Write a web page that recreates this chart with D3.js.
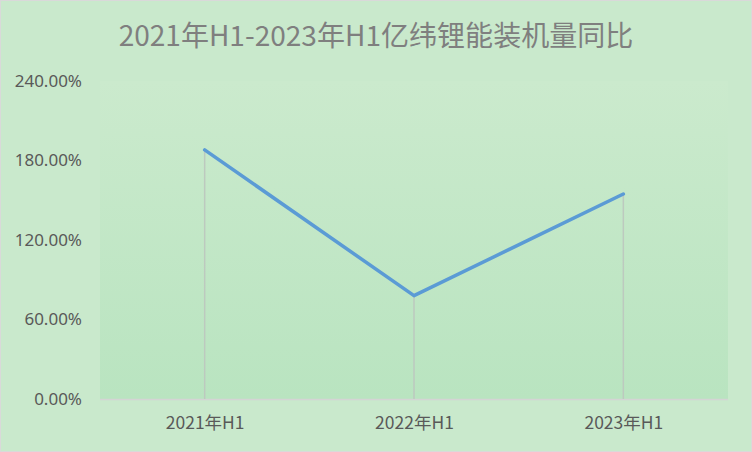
<!DOCTYPE html>
<html>
<head>
<meta charset="utf-8">
<script src="https://cdn.jsdelivr.net/npm/d3@7"></script>
<style>
  body { margin: 0; background: #fff; }
  svg { display: block; }
</style>
</head>
<body>
<div id="chart"></div>
<script>
// chart data
var categories = ['2021年H1', '2022年H1', '2023年H1'];
var yoyValues = [1.88, 0.78, 1.547];
var yTicks = [0, 0.6, 1.2, 1.8, 2.4];
var titleText = '2021年H1-2023年H1亿纬锂能装机量同比';

var width = 752, height = 452;
var margin = {top: 81, right: 24, bottom: 53, left: 100};
var plotW = width - margin.left - margin.right;
var plotH = height - margin.top - margin.bottom;

const svg = d3.select('#chart')
  .append('svg')
  .attr('width', width)
  .attr('height', height);

// gradient for the plot area
var defs = svg.append('defs');
var grad = defs.append('linearGradient')
  .attr('id', 'plotGrad')
  .attr('x1', 0).attr('y1', 0).attr('x2', 0).attr('y2', 1);
grad.append('stop').attr('offset', '0%').attr('stop-color', '#cbeacd');
grad.append('stop').attr('offset', '100%').attr('stop-color', '#b9e4c0');

// chart background + border
svg.append('rect')
  .attr('x', 0.5).attr('y', 0.5)
  .attr('width', width - 1).attr('height', height - 1)
  .attr('fill', '#c9e9cc')
  .attr('stroke', '#d9d9d9');

// title
var title = svg.append('text')
  .attr('x', width / 2)
  .attr('y', 46)
  .attr('text-anchor', 'middle')
  .attr('fill', '#7f7f7f')
  .style('font-family', '"Noto Sans CJK SC", "Noto Sans", sans-serif')
  .style('font-size', '26px')
  .text(titleText);
var tw = title.node().getComputedTextLength();
if (tw > 0) title.style('font-size', (26 * 515 / tw) + 'px');

const g = svg.append('g')
  .attr('transform', 'translate(' + margin.left + ',' + margin.top + ')');

g.append('rect')
  .attr('width', plotW).attr('height', plotH)
  .attr('fill', 'url(#plotGrad)');

var x = d3.scalePoint()
  .domain(categories)
  .range([0, plotW])
  .padding(0.5);

var y = d3.scaleLinear()
  .domain([0, 2.4])
  .range([plotH, 0]);

// y axis labels
var yAxis = d3.axisLeft(y)
  .tickValues(yTicks)
  .tickSize(0)
  .tickPadding(18)
  .tickFormat(d => (d * 100).toFixed(2) + '%');
var yg = g.append('g').call(yAxis);
yg.select('.domain').remove();
yg.selectAll('text')
  .attr('fill', '#595959')
  .style('font-family', '"Noto Sans", sans-serif')
  .style('font-size', '17px');

// x axis
var xAxis = d3.axisBottom(x).tickSize(0).tickPadding(18);
var xg = g.append('g')
  .attr('transform', 'translate(0,' + plotH + ')')
  .call(xAxis);
xg.select('.domain')
  .attr('stroke', '#d4d4d4')
  .attr('stroke-width', 1.5)
  .attr('d', 'M0,0.5H' + plotW);
xg.selectAll('text')
  .attr('fill', '#595959')
  .style('font-family', '"Noto Sans CJK SC", "Noto Sans", sans-serif')
  .style('font-size', '17.5px');

var points = categories.map((c, i) => ({cat: c, val: yoyValues[i]}));

// drop lines
g.append('g')
  .selectAll('line')
  .data(points)
  .join('line')
  .attr('x1', d => x(d.cat))
  .attr('x2', d => x(d.cat))
  .attr('y1', d => y(d.val))
  .attr('y2', plotH)
  .attr('stroke', '#bdc9bf')
  .attr('stroke-width', 1.5);

// the line
var line = d3.line()
  .x(d => x(d.cat))
  .y(d => y(d.val));

g.append('path')
  .datum(points)
  .attr('d', line)
  .attr('fill', 'none')
  .attr('stroke', '#5b9bd5')
  .attr('stroke-width', 3.5)
  .attr('stroke-linecap', 'round')
  .attr('stroke-linejoin', 'round');
</script>
</body>
</html>
